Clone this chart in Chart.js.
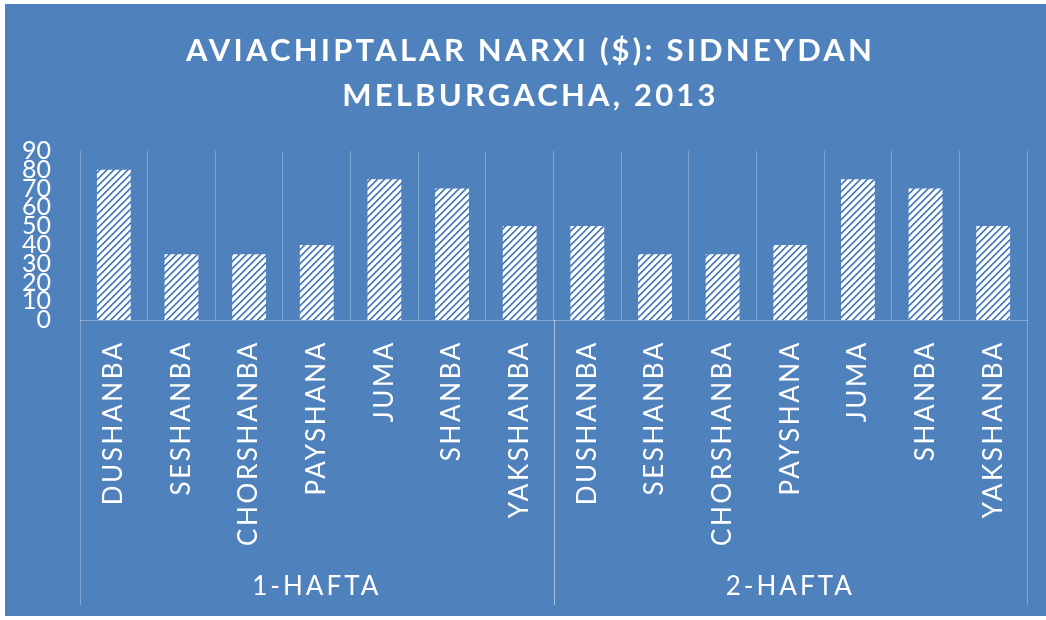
<!DOCTYPE html>
<html>
<head>
<meta charset="utf-8">
<script src="https://cdn.jsdelivr.net/npm/chart.js@4.4.1/dist/chart.umd.min.js"></script>
<style>
  html, body { margin: 0; padding: 0; background: #ffffff; }
  .wrap { position: absolute; left: 5px; top: 4px; width: 1041px; height: 612px; background: #4f81bd; }
</style>
</head>
<body>
<div class="wrap"><canvas id="chart" width="1041" height="612"></canvas></div>
<script>
// data
const titleLines = ['AVIACHIPTALAR NARXI ($): SIDNEYDAN', 'MELBURGACHA, 2013'];
const days = ['DUSHANBA', 'SESHANBA', 'CHORSHANBA', 'PAYSHANA', 'JUMA', 'SHANBA', 'YAKSHANBA'];
const weeks = ['1-HAFTA', '2-HAFTA'];
const week1Prices = [80, 35, 35, 40, 75, 70, 50];
const week2Prices = [50, 35, 35, 40, 75, 70, 50];
const yMin = 0;
const yMax = 90;
const yStep = 10;

const BG = '#4f81bd';
const GRID = 'rgba(255, 255, 255, 0.3)';

// white bars with blue "/" stripes
function makePattern() {
  const n = 7;
  const c = document.createElement('canvas');
  c.width = n;
  c.height = n;
  const g = c.getContext('2d');
  g.fillStyle = '#ffffff';
  g.fillRect(0, 0, n, n);
  for (let x = 0; x < n; x++) {
    for (let y = 0; y < n; y++) {
      const k = (x + y) % n;
      if (k === 0 || k === 1) {
        g.fillStyle = BG;
        g.fillRect(x, y, 1, 1);
      } else if (k === 2) {
        g.fillStyle = '#a9c0de';
        g.fillRect(x, y, 1, 1);
      }
    }
  }
  return g.createPattern(c, 'repeat');
}

const labels = weeks.flatMap(() => days);
const values = [...week1Prices, ...week2Prices];

const extraDrawing = {
  id: 'extraDrawing',
  afterDraw(chart) {
    const ctx = chart.ctx;
    const area = chart.chartArea;
    const xs = chart.scales.x;
    const perWeek = days.length;

    ctx.save();
    ctx.fillStyle = '#ffffff';

    // title
    ctx.font = 'bold 31px Lato';
    ctx.letterSpacing = '3.2px';
    ctx.textAlign = 'center';
    ctx.textBaseline = 'middle';
    ctx.fillText(titleLines[0], chart.width / 2 + 5, 47);
    ctx.fillText(titleLines[1], chart.width / 2 + 5, 92);

    // day labels, rotated
    ctx.font = '26px Lato';
    ctx.letterSpacing = '2.6px';
    labels.forEach((lab, i) => {
      const x = xs.getPixelForValue(i);
      ctx.save();
      ctx.translate(x, area.bottom + 20);
      ctx.rotate(-Math.PI / 2);
      ctx.textAlign = 'right';
      ctx.textBaseline = 'middle';
      ctx.fillText(lab, 0, 0);
      ctx.restore();
    });

    // week labels and separators
    ctx.font = '26px Lato';
    ctx.letterSpacing = '3px';
    ctx.textAlign = 'center';
    ctx.strokeStyle = GRID;
    ctx.lineWidth = 1;
    const half = (xs.getPixelForValue(1) - xs.getPixelForValue(0)) / 2;
    weeks.forEach((w, k) => {
      const left = xs.getPixelForValue(k * perWeek) - half;
      const right = xs.getPixelForValue((k + 1) * perWeek - 1) + half;
      ctx.fillText(w, (left + right) / 2, 583);
      [left, right].forEach(px => {
        const p = Math.round(px) + 0.5;
        ctx.beginPath();
        ctx.moveTo(p, area.bottom);
        ctx.lineTo(p, 601);
        ctx.stroke();
      });
    });
    ctx.restore();
  }
};

const ctx = document.getElementById('chart');
new Chart(ctx, {
  type: 'bar',
  data: {
    labels,
    datasets: [{
      data: values,
      backgroundColor: makePattern(),
      borderWidth: 0,
      barPercentage: 0.5,
      categoryPercentage: 1.0
    }]
  },
  options: {
    responsive: false,
    animation: false,
    layout: { padding: { top: 147, left: 0, right: 19, bottom: 0 } },
    plugins: {
      legend: { display: false },
      tooltip: { enabled: false },
      title: { display: false }
    },
    scales: {
      x: {
        grid: { color: GRID, offset: true, drawTicks: false },
        border: { color: GRID },
        ticks: { display: false },
        afterFit: s => { s.height = 296; }
      },
      y: {
        min: yMin,
        max: yMax,
        grid: { display: false },
        border: { display: false },
        ticks: {
          stepSize: yStep,
          autoSkip: false,
          color: '#ffffff',
          padding: 21,
          font: { family: 'Lato', size: 25 }
        },
        afterFit: s => { s.width = 75; }
      }
    }
  },
  plugins: [extraDrawing]
});
</script>
</body>
</html>
